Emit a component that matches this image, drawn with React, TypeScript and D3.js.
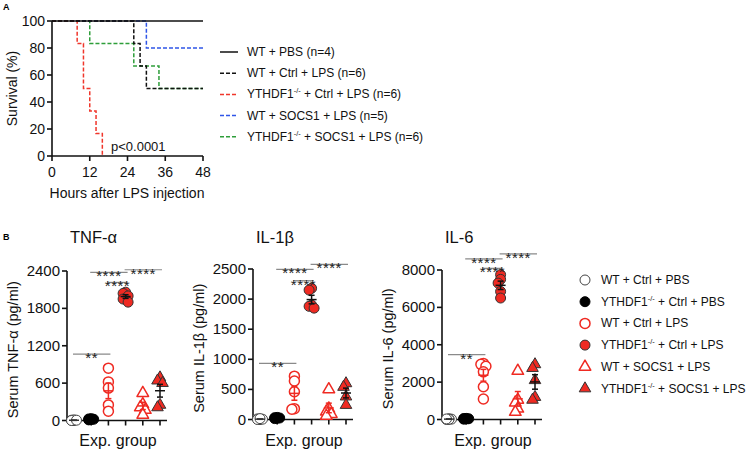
import React from "react";
import * as d3 from "d3";

const FONT = "Arial, 'Liberation Sans', Helvetica, sans-serif";
const RED = "#ef2a22";

// ---------- Panel A data ----------
const survLabels = [
  "WT + PBS (n=4)",
  "WT + Ctrl + LPS (n=6)",
  "YTHDF1-/- + Ctrl + LPS (n=6)",
  "WT + SOCS1 + LPS (n=5)",
  "YTHDF1-/- + SOCS1 + LPS (n=6)",
];
const survColors = ["#111", "#111", "#f0362b", "#2f55e8", "#2e9e3a"];
const survDashed = [false, true, true, true, true];
const survTimes = [
  [0, 48],
  [0, 26, 28, 30, 48],
  [0, 8, 10, 12, 14, 16],
  [0, 30, 48],
  [0, 12, 26, 34, 48],
];
const survValues = [
  [100, 100],
  [100, 83.3, 66.7, 50, 50],
  [100, 83.3, 50, 33.3, 16.7, 0],
  [100, 80, 80],
  [100, 83.3, 66.7, 50, 50],
];
const survDrawOrder = [4, 3, 2, 1, 0];
const survXTicks = [0, 12, 24, 36, 48];
const survYTicks = [0, 20, 40, 60, 80, 100];

// ---------- Panel B data ----------
const groupLabels = [
  "WT + Ctrl + PBS",
  "YTHDF1-/- + Ctrl + PBS",
  "WT + Ctrl + LPS",
  "YTHDF1-/- + Ctrl + LPS",
  "WT + SOCS1 + LPS",
  "YTHDF1-/- + SOCS1 + LPS",
];
const groupShape = ["circle", "circle", "circle", "circle", "triangle", "triangle"];
const groupFill = ["#fff", "#000", "#fff", RED, "#fff", RED];
const groupStroke = ["#444", "#000", RED, "#333", RED, "#333"];
const groupErrColor = ["#333", "#000", RED, "#111", RED, "#111"];

const tnfValues = [
  [0, 5, 10, 0, 5],
  [20, 30, 25, 15, 10],
  [840, 620, 520, 250, 150],
  [2060, 2040, 2000, 1950, 1900],
  [440, 260, 210, 170, 90],
  [690, 640, 600, 250, 210],
];
const il1Values = [
  [0, 10, 5, 0, 15],
  [20, 30, 25, 35, 15],
  [720, 640, 460, 180, 170],
  [2180, 2150, 1900, 1880, 1850],
  [500, 180, 130, 90, 60],
  [600, 540, 380, 240],
];
const il6Values = [
  [0, 20, 40, 10, 30],
  [30, 50, 40, 20, 60],
  [3000, 2950, 2850, 2550, 1750, 1100],
  [7750, 7500, 7300, 6850, 6500],
  [2600, 1050, 900, 580, 400],
  [2950, 2750, 2100, 1200, 1050],
];

const comparisons = [
  [0, 2, "**"],
  [1, 3, "****"],
  [2, 3, "****"],
  [3, 5, "****"],
];
const tnfSigY = [1067, 2378, 2217, 2420];
const il1SigY = [931, 2495, 2306, 2578];
const il6SigY = [3474, 8590, 8091, 8859];

const tnfTicks = [0, 600, 1200, 1800, 2400];
const il1Ticks = [0, 500, 1000, 1500, 2000, 2500];
const il6Ticks = [0, 2000, 4000, 6000, 8000];

const panels = [
  { title: "TNF-α", ylabel: "Serum TNF-α (pg/ml)", values: tnfValues, ticks: tnfTicks, sig: tnfSigY, axisX: 67, yTop: 271, yBot: 420.5 },
  { title: "IL-1β", ylabel: "Serum IL-1β (pg/ml)", values: il1Values, ticks: il1Ticks, sig: il1SigY, axisX: 253, yTop: 269, yBot: 419.5 },
  { title: "IL-6", ylabel: "Serum IL-6 (pg/ml)", values: il6Values, ticks: il6Ticks, sig: il6SigY, axisX: 442, yTop: 270, yBot: 419.5 },
];

function Label({ text, x, y, size, anchor = "start" }: any) {
  const parts = text.split("-/-");
  if (parts.length === 1)
    return (
      <text x={x} y={y} fontSize={size} textAnchor={anchor} fontFamily={FONT} fill="#111">
        {text}
      </text>
    );
  return (
    <text x={x} y={y} fontSize={size} textAnchor={anchor} fontFamily={FONT} fill="#111">
      {parts[0]}
      <tspan dy={-5} fontSize={size * 0.62}>-/-</tspan>
      <tspan dy={5}>{parts[1]}</tspan>
    </text>
  );
}

function swarm(vals: number[], y: (v: number) => number, r: number) {
  const order = vals.map((v, i) => i).sort((a, b) => vals[b] - vals[a]);
  const placed: { x: number; y: number }[] = [];
  const offs = new Array(vals.length).fill(0);
  const cands = [0, -2.5, 2.5];
  const thr = r * 0.8;
  for (const i of order) {
    const py = y(vals[i]);
    let chosen = 0;
    let best = -1;
    for (const c of cands) {
      const md = placed.length ? Math.min(...placed.map((p) => Math.hypot(p.x - c, p.y - py))) : Infinity;
      if (md >= thr) {
        chosen = c;
        best = Infinity;
        break;
      }
      if (md > best) {
        best = md;
        chosen = c;
      }
    }
    placed.push({ x: chosen, y: py });
    offs[i] = chosen;
  }
  return offs;
}

function Marker({ shape, x, y, fill, stroke, sw }: any) {
  if (shape === "circle")
    return <circle cx={x} cy={y} r={5} fill={fill} stroke={stroke} strokeWidth={sw} />;
  const p = d3.symbol(d3.symbolTriangle, 58)();
  return <path d={p as string} transform={`translate(${x},${y})`} fill={fill} stroke={stroke} strokeWidth={sw} strokeLinejoin="round" />;
}

function PanelB({ cfg }: any) {
  const { axisX, yTop, yBot } = cfg;
  const max = cfg.ticks[cfg.ticks.length - 1];
  const y = d3.scaleLinear([0, max], [yBot, yTop]);
  const x = d3.scalePoint<number>(d3.range(6), [axisX + 7, axisX + 93]);
  return (
    <g fontFamily={FONT}>
      <text x={axisX + 3} y={243} fontSize={16.5} fill="#111">{cfg.title}</text>
      {/* axes */}
      <line x1={axisX} x2={axisX} y1={yTop} y2={yBot} stroke="#111" strokeWidth={1.6} />
      <line x1={axisX} x2={axisX + 100} y1={yBot} y2={yBot} stroke="#111" strokeWidth={1.6} />
      {cfg.ticks.map((t: number) => (
        <g key={t}>
          <line x1={axisX - 5} x2={axisX} y1={y(t)} y2={y(t)} stroke="#111" strokeWidth={1.6} />
          <text x={axisX - 7} y={y(t) + 5} fontSize={15} textAnchor="end" fill="#111">{t}</text>
        </g>
      ))}
      {d3.range(6).map((g) => (
        <line key={g} x1={x(g)} x2={x(g)} y1={yBot} y2={yBot + 5} stroke="#111" strokeWidth={1.6} />
      ))}
      <text x={axisX + 51} y={446} fontSize={16} textAnchor="middle" fill="#111">Exp. group</text>
      <text transform={`translate(${axisX - 49},${(yTop + yBot) / 2 + 4}) rotate(-90)`} fontSize={14.5} textAnchor="middle" fill="#111">
        {cfg.ylabel}
      </text>
      {/* points */}
      {cfg.values.map((vals: number[], g: number) => {
        const offs = swarm(vals, y, 5);
        return vals.map((v, i) => (
          <Marker key={`${g}-${i}`} shape={groupShape[g]} x={(x(g) as number) + offs[i]} y={y(v)}
            fill={groupFill[g]} stroke={groupStroke[g]} sw={g === 2 || g === 4 ? 1.5 : 1} />
        ));
      })}
      {/* error bars */}
      {cfg.values.map((vals: number[], g: number) => {
        const m = d3.mean(vals) as number;
        const sem = (d3.deviation(vals) as number) / Math.sqrt(vals.length);
        const cx = x(g) as number;
        const c = groupErrColor[g];
        return (
          <g key={g} stroke={c} strokeWidth={1.5}>
            <line x1={cx} x2={cx} y1={y(m - sem)} y2={y(m + sem)} />
            <line x1={cx - 5} x2={cx + 5} y1={y(m)} y2={y(m)} />
            <line x1={cx - 3} x2={cx + 3} y1={y(m - sem)} y2={y(m - sem)} />
            <line x1={cx - 3} x2={cx + 3} y1={y(m + sem)} y2={y(m + sem)} />
          </g>
        );
      })}
      {/* significance */}
      {comparisons.map((c: any, k: number) => {
        const x1 = (x(c[0]) as number) - 1;
        const x2 = (x(c[1]) as number) + 2;
        const yy = y(cfg.sig[k]);
        return (
          <g key={k}>
            <line x1={x1} x2={x2} y1={yy} y2={yy} stroke="#8a8a8a" strokeWidth={1.2} />
            <text x={(x1 + x2) / 2} y={yy + 9} fontSize={15} letterSpacing={0.5} textAnchor="middle" fill="#222">{c[2]}</text>
          </g>
        );
      })}
    </g>
  );
}

export default function App() {
  const xS = d3.scaleLinear([0, 48], [52, 203]);
  const yS = d3.scaleLinear([0, 100], [156, 21]);
  const line = d3.line<[number, number]>().x((d) => xS(d[0])).y((d) => yS(d[1])).curve(d3.curveStepAfter);

  return (
    <svg width={749} height={451} style={{ position: "absolute", left: 0, top: 0, background: "#fff" }}>
      <rect width={749} height={451} fill="#fff" />
      <text x={3} y={10} fontSize={9} fontWeight="bold" fontFamily={FONT}>A</text>
      <text x={3} y={240} fontSize={9} fontWeight="bold" fontFamily={FONT}>B</text>

      {/* Panel A */}
      <g fontFamily={FONT}>
        {survDrawOrder.map((i) => (
          <path key={i} d={line(survTimes[i].map((t, k) => [t, survValues[i][k]]) as any) as string}
            fill="none" stroke={survColors[i]} strokeWidth={1.5} strokeDasharray={survDashed[i] ? "4,2" : undefined} />
        ))}
        <line x1={52} x2={52} y1={yS(100)} y2={yS(0)} stroke="#111" strokeWidth={1.6} />
        <line x1={52} x2={xS(48)} y1={yS(0)} y2={yS(0)} stroke="#111" strokeWidth={1.6} />
        {survYTicks.map((t) => (
          <g key={t}>
            <line x1={47} x2={52} y1={yS(t)} y2={yS(t)} stroke="#111" strokeWidth={1.6} />
            <text x={45} y={yS(t) + 5} fontSize={14} textAnchor="end" fill="#111">{t}</text>
          </g>
        ))}
        {survXTicks.map((t) => (
          <g key={t}>
            <line x1={xS(t)} x2={xS(t)} y1={156} y2={161} stroke="#111" strokeWidth={1.6} />
            <text x={xS(t)} y={177} fontSize={14} textAnchor="middle" fill="#111">{t}</text>
          </g>
        ))}
        <text x={127} y={198} fontSize={14} textAnchor="middle" fill="#111">Hours after LPS injection</text>
        <text transform={`translate(17,${(21 + 156) / 2}) rotate(-90)`} fontSize={14} textAnchor="middle" fill="#111">Survival (%)</text>
        <text x={111} y={151} fontSize={13} fill="#111">p&lt;0.0001</text>
        {survLabels.map((l, i) => {
          const yy = 52 + i * 21.2;
          return (
            <g key={i}>
              <line x1={220} x2={238} y1={yy} y2={yy} stroke={survColors[i]} strokeWidth={1.5} strokeDasharray={survDashed[i] ? "4,2" : undefined} />
              <Label text={l} x={247} y={yy + 4} size={12} />
            </g>
          );
        })}
      </g>

      {panels.map((p, i) => <PanelB key={i} cfg={p} />)}

      {/* Legend B */}
      {groupLabels.map((l, g) => {
        const yy = 280 + g * 21.7;
        return (
          <g key={g}>
            <Marker shape={groupShape[g]} x={585} y={yy} fill={groupFill[g]} stroke={groupStroke[g]} sw={g === 2 || g === 4 ? 1.5 : 1} />
            <Label text={l} x={601} y={yy + 4} size={12} />
          </g>
        );
      })}
    </svg>
  );
}
